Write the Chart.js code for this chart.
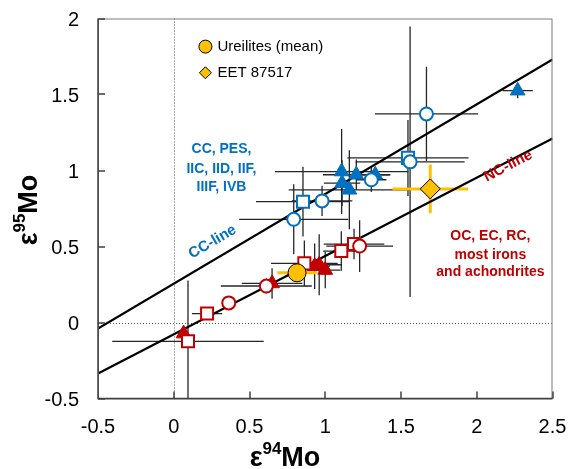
<!DOCTYPE html>
<html>
<head>
<meta charset="utf-8">
<script src="https://cdn.jsdelivr.net/npm/chart.js@4.4.0/dist/chart.umd.min.js"></script>
<style>
  html, body { margin: 0; padding: 0; background: #fff; }
</style>
</head>
<body>
<canvas id="moChart" width="569" height="469"></canvas>
<script>
// each row: [e94Mo, e95Mo, x error, y error]
const ccCircles = [
  [1.668, 1.372, 0.34, 0.31],
  [1.56, 1.057, 0.36, 0.89],
  [1.304, 0.939, 0.1, 0.08],
  [0.979, 0.8, 0.2, 0.1],
  [0.792, 0.679, 0.36, 0.23],
];
const ccSquares = [
  [1.546, 1.083, 0.4, 0.25],
  [0.853, 0.795, 0.31, 0.23],
];
const ccTriangles = [
  [2.27, 1.525, 0.1, 0.05],
  [1.108, 0.993, 0.44, 0.28],
  [1.205, 0.972, 0.22, 0.1],
  [1.111, 0.917, 0.12, 0.15],
  [1.159, 0.873, 0.4, 0.26],
  [1.33, 0.972, 0.1, 0.05],
];
const ncCircles = [
  [1.227, 0.503, 0.22, 0.17],
  [0.611, 0.24, 0.3, 0.05],
  [0.363, 0.129, 0, 0],
];
const ncSquares = [
  [1.19, 0.516, 0.2, 0.1],
  [1.106, 0.47, 0.12, 0.13],
  [0.862, 0.389, 0.22, 0.15],
  [0.22, 0.059, 0.1, 0],
  [0.094, -0.124, 0.5, 0.4],
];
const ncTriangles = [
  [0.93, 0.37, 0.1, 0.15],
  [0.96, 0.38, 0.15, 0.2],
  [1.0, 0.345, 0.1, 0.12],
  [0.649, 0.257, 0.2, 0.1],
  [0.065, -0.073, 0, 0],
];
const ureilites = [[0.814, 0.327, 0.13, 0.055]];
const eet87517 = [[1.693, 0.879, 0.25, 0.16]];

const ccLine = [[-0.5, -0.04], [2.5, 1.73]];
const ncLine = [[-0.5, -0.335], [2.5, 1.21]];

const xTicks = [-0.5, 0, 0.5, 1, 1.5, 2, 2.5];
const yTicks = [-0.5, 0, 0.5, 1, 1.5, 2];

const BLUE = "#0070C0";
const RED = "#C00000";
const YELLOW = "#FFC000";
const FONT = "'Liberation Sans', Arial, sans-serif";

const toPoints = (rows) => rows.map(([x, y, xe, ye]) => ({ x, y, xe, ye }));

const markerSet = (rows, style, color, filled, radius, order) => ({
  data: toPoints(rows),
  pointStyle: style,
  pointRadius: radius,
  pointBackgroundColor: filled ? color : "#fff",
  pointBorderColor: color,
  pointBorderWidth: filled ? 1 : 2,
  showLine: false,
  errorColor: "#262626",
  errorWidth: 1.3,
  order: order,
});

const lineSet = (pts) => ({
  data: pts.map(([x, y]) => ({ x, y })),
  showLine: true,
  borderColor: "#000",
  borderWidth: 2.2,
  pointRadius: 0,
  order: 20,
});

// frame, dotted zero lines and error bars behind the markers
const backdrop = {
  id: "backdrop",
  beforeDatasetsDraw(chart) {
    const { ctx, chartArea: a, scales: { x, y } } = chart;
    ctx.save();
    ctx.strokeStyle = "#555";
    ctx.lineWidth = 1;
    ctx.setLineDash([1, 2]);
    const x0 = Math.round(x.getPixelForValue(0)) + 0.5;
    const y0 = Math.round(y.getPixelForValue(0)) + 0.5;
    ctx.beginPath();
    ctx.moveTo(x0, a.top); ctx.lineTo(x0, a.bottom);
    ctx.moveTo(a.left, y0); ctx.lineTo(a.right, y0);
    ctx.stroke();
    ctx.setLineDash([]);

    ctx.beginPath();
    ctx.rect(a.left, a.top, a.right - a.left, a.bottom - a.top);
    ctx.clip();
    const sets = chart.data.datasets.filter((ds) => ds.errorColor)
      .sort((p, q) => p.errorWidth - q.errorWidth);
    sets.forEach((ds) => {
      ctx.strokeStyle = ds.errorColor;
      ctx.lineWidth = ds.errorWidth;
      ds.data.forEach((p) => {
        const px = x.getPixelForValue(p.x);
        const py = y.getPixelForValue(p.y);
        ctx.beginPath();
        if (p.xe) {
          ctx.moveTo(x.getPixelForValue(p.x - p.xe), py);
          ctx.lineTo(x.getPixelForValue(p.x + p.xe), py);
        }
        if (p.ye) {
          ctx.moveTo(px, y.getPixelForValue(p.y - p.ye));
          ctx.lineTo(px, y.getPixelForValue(p.y + p.ye));
        }
        ctx.stroke();
      });
    });
    ctx.restore();
  },
  afterDraw(chart) {
    const { ctx, chartArea: a, scales: { x, y } } = chart;
    ctx.save();
    // box and inside ticks
    ctx.strokeStyle = "#7f7f7f";
    ctx.lineWidth = 1;
    ctx.strokeRect(a.left + 0.5, a.top + 0.5, a.right - a.left - 1, a.bottom - a.top);
    ctx.strokeStyle = "#404040";
    ctx.lineWidth = 1.5;
    ctx.beginPath();
    ctx.moveTo(a.left, a.top); ctx.lineTo(a.left, a.bottom); ctx.lineTo(a.right, a.bottom);
    x.ticks.forEach((t) => {
      const px = Math.round(x.getPixelForValue(t.value));
      ctx.moveTo(px, a.bottom); ctx.lineTo(px, a.bottom - 7);
    });
    y.ticks.forEach((t) => {
      const py = Math.round(y.getPixelForValue(t.value));
      ctx.moveTo(a.left, py); ctx.lineTo(a.left + 7, py);
    });
    ctx.stroke();

    // tick labels (drawn here so they do not push the plot box around)
    ctx.fillStyle = "#000";
    ctx.font = "20px " + FONT;
    ctx.textBaseline = "alphabetic";
    ctx.textAlign = "center";
    x.ticks.forEach((t) => {
      ctx.fillText(String(t.value), x.getPixelForValue(t.value), a.bottom + 34.5);
    });
    ctx.textAlign = "right";
    y.ticks.forEach((t) => {
      ctx.fillText(String(t.value), a.left - 19, y.getPixelForValue(t.value) + 7);
    });

    // in-plot legend
    const lx = x.getPixelForValue(0.209);
    const ly1 = y.getPixelForValue(1.815);
    const ly2 = y.getPixelForValue(1.643);
    ctx.fillStyle = YELLOW;
    ctx.strokeStyle = "#000";
    ctx.lineWidth = 1;
    ctx.beginPath();
    ctx.arc(lx, ly1, 6.5, 0, Math.PI * 2);
    ctx.fill(); ctx.stroke();
    ctx.beginPath();
    ctx.moveTo(lx - 6, ly2); ctx.lineTo(lx, ly2 - 6); ctx.lineTo(lx + 6, ly2); ctx.lineTo(lx, ly2 + 6);
    ctx.closePath();
    ctx.fill(); ctx.stroke();
    ctx.fillStyle = "#000";
    ctx.font = "15px " + FONT;
    ctx.textAlign = "left";
    ctx.textBaseline = "middle";
    ctx.fillText("Ureilites (mean)", lx + 12, ly1);
    ctx.fillText("EET 87517", lx + 12, ly2);

    // group labels
    ctx.font = "bold 14px " + FONT;
    ctx.textAlign = "center";
    ctx.fillStyle = BLUE;
    [["CC, PES,", 1.143], ["IIC, IID, IIF,", 1.011], ["IIIF, IVB", 0.893]].forEach(([t, v]) => {
      ctx.fillText(t, x.getPixelForValue(0.315), y.getPixelForValue(v));
    });
    ctx.fillStyle = RED;
    [["OC, EC, RC,", 0.569], ["most irons", 0.443], ["and achondrites", 0.331]].forEach(([t, v]) => {
      ctx.fillText(t, x.getPixelForValue(2.09), y.getPixelForValue(v));
    });

    // line names, turned along their lines
    const turned = (text, color, xv, yv, pts) => {
      const ang = Math.atan2(
        y.getPixelForValue(pts[1][1]) - y.getPixelForValue(pts[0][1]),
        x.getPixelForValue(pts[1][0]) - x.getPixelForValue(pts[0][0]));
      ctx.save();
      ctx.translate(x.getPixelForValue(xv), y.getPixelForValue(yv));
      ctx.rotate(ang);
      ctx.fillStyle = color;
      ctx.font = "bold 15px " + FONT;
      ctx.fillText(text, 0, 0);
      ctx.restore();
    };
    turned("CC-line", BLUE, 0.256, 0.53, ccLine);
    turned("NC-line", RED, 2.207, 1.03, ncLine);

    // axis titles
    const epsMo = (mass, cx, cy, rotate) => {
      const big = "bold 27px " + FONT;
      const small = "bold 17px " + FONT;
      ctx.font = big;
      const wE = ctx.measureText("ε").width;
      const wMo = ctx.measureText("Mo").width;
      ctx.font = small;
      const wS = ctx.measureText(mass).width;
      ctx.save();
      ctx.translate(cx, cy);
      if (rotate) ctx.rotate(-Math.PI / 2);
      ctx.fillStyle = "#000";
      ctx.textAlign = "left";
      ctx.textBaseline = "alphabetic";
      let pos = -(wE + wS + wMo) / 2;
      ctx.font = big; ctx.fillText("ε", pos, 9); pos += wE;
      ctx.font = small; ctx.fillText(mass, pos, -3); pos += wS;
      ctx.font = big; ctx.fillText("Mo", pos, 9);
      ctx.restore();
    };
    epsMo("94", 285, 457, false);
    epsMo("95", 28, 210, true);
    ctx.restore();
  },
};

new Chart(document.getElementById("moChart"), {
  type: "scatter",
  data: {
    datasets: [
      { ...markerSet(eet87517, "rectRot", YELLOW, true, 10, 1), pointBorderColor: "#000", errorColor: YELLOW, errorWidth: 3 },
      { ...markerSet(ureilites, "circle", YELLOW, true, 9, 2), pointBorderColor: "#000", errorColor: YELLOW, errorWidth: 3 },
      markerSet(ccCircles, "circle", BLUE, false, 6.5, 3),
      markerSet(ccSquares, "rect", BLUE, false, 8.5, 4),
      markerSet(ccTriangles, "triangle", BLUE, true, 8.5, 5),
      markerSet(ncCircles, "circle", RED, false, 6.5, 6),
      markerSet(ncSquares, "rect", RED, false, 8.5, 7),
      markerSet(ncTriangles, "triangle", RED, true, 8.5, 8),
      lineSet(ccLine),
      lineSet(ncLine),
    ],
  },
  options: {
    responsive: false,
    animation: false,
    layout: { padding: { top: 18.5, right: 16.5, left: 0, bottom: 0 } },
    plugins: { legend: { display: false }, tooltip: { enabled: false } },
    scales: {
      x: {
        type: "linear",
        min: -0.5,
        max: 2.5,
        afterBuildTicks: (s) => { s.ticks = xTicks.map((v) => ({ value: v })); },
        afterFit: (s) => { s.height = 70.5; },
        grid: { display: false, drawTicks: false },
        border: { display: false },
        ticks: { display: false },
      },
      y: {
        type: "linear",
        min: -0.5,
        max: 2,
        afterBuildTicks: (s) => { s.ticks = yTicks.map((v) => ({ value: v })); },
        afterFit: (s) => { s.width = 98; },
        grid: { display: false, drawTicks: false },
        border: { display: false },
        ticks: { display: false },
      },
    },
  },
  plugins: [backdrop],
});
</script>
</body>
</html>
